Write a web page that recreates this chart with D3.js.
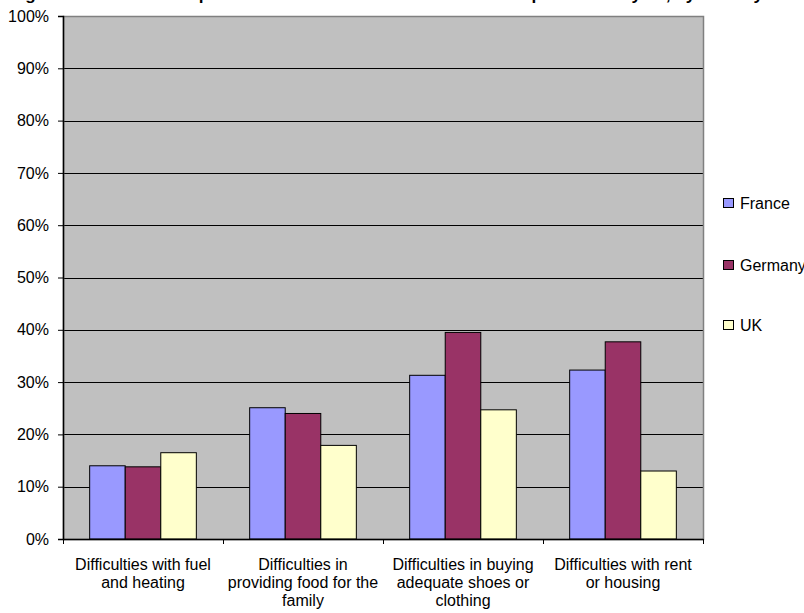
<!DOCTYPE html>
<html>
<head>
<meta charset="utf-8">
<script src="https://cdn.jsdelivr.net/npm/d3@7"></script>
<style>
  body { margin: 0; background: #fff; }
  svg { display: block; }
  text { font-family: "Liberation Sans", Arial, sans-serif; fill: #000; }
</style>
</head>
<body>
<div id="chart"></div>
<script>
const categories = [
  ["Difficulties with fuel", "and heating"],
  ["Difficulties in", "providing food for the", "family"],
  ["Difficulties in buying", "adequate shoes or", "clothing"],
  ["Difficulties with rent", "or housing"]
];
const seriesNames = ["France", "Germany", "UK"];
const france  = [0.140, 0.251, 0.313, 0.323];
const germany = [0.138, 0.240, 0.395, 0.377];
const uk      = [0.165, 0.179, 0.247, 0.130];
const seriesValues = [france, germany, uk];
const colors = ["#9999FF", "#993366", "#FFFFCC"];
const yTicks = [0, 0.1, 0.2, 0.3, 0.4, 0.5, 0.6, 0.7, 0.8, 0.9, 1.0];
const title = "Figure 5: Difficulties experienced as a result of financial hardship in the last year, by country";

const W = 804, H = 613;
const plot = { left: 63, right: 703, top: 16, bottom: 539 };

const svg = d3.select("#chart").append("svg").attr("width", W).attr("height", H);

// title (mostly cut off at the top edge, as in the reference)
svg.append("text")
  .attr("x", 10).attr("y", -0.5)
  .attr("textLength", 753).attr("lengthAdjust", "spacingAndGlyphs")
  .style("font-size", "16px").style("font-weight", "bold")
  .text(title);

const x0 = d3.scaleBand().domain(d3.range(categories.length))
  .range([plot.left, plot.right]).paddingInner(0).paddingOuter(0);
const bw = x0.bandwidth() / 4.5;
const y = d3.scaleLinear().domain([0, 1]).range([plot.bottom, plot.top]);

// plot background
svg.append("rect")
  .attr("x", plot.left).attr("y", plot.top)
  .attr("width", plot.right - plot.left).attr("height", plot.bottom - plot.top)
  .attr("fill", "#C0C0C0");

// gridlines
svg.append("g").selectAll("line").data(yTicks.slice(1, -1)).join("line")
  .attr("x1", plot.left).attr("x2", plot.right)
  .attr("y1", d => Math.round(y(d)) + 0.5).attr("y2", d => Math.round(y(d)) + 0.5)
  .attr("stroke", "#000").attr("stroke-width", 1);

// plot border
svg.append("rect")
  .attr("x", plot.left + 0.5).attr("y", plot.top + 0.5)
  .attr("width", plot.right - plot.left).attr("height", plot.bottom - plot.top)
  .attr("fill", "none").attr("stroke", "#808080").attr("stroke-width", 1.5);

// bars
seriesValues.forEach((vals, si) => {
  svg.append("g").selectAll("rect").data(vals).join("rect")
    .attr("x", (d, i) => x0(i) + bw * 0.75 + si * bw)
    .attr("y", d => y(d))
    .attr("width", bw)
    .attr("height", d => y(0) - y(d))
    .attr("fill", colors[si])
    .attr("stroke", "#000").attr("stroke-width", 1);
});

// y axis
const yAxis = d3.axisLeft(y).tickValues(yTicks).tickFormat(d3.format(".0%"))
  .tickSize(5).tickPadding(9);
const gy = svg.append("g").attr("transform", `translate(${plot.left},0)`).call(yAxis);
gy.select(".domain").attr("stroke", "#000").attr("stroke-width", 1.5);
gy.selectAll(".tick line").attr("stroke", "#000");
gy.selectAll(".tick text").style("font-size", "16px").style("font-family", "Liberation Sans, Arial, sans-serif");

// x axis with ticks at category boundaries
const xb = d3.scaleLinear().domain([0, categories.length]).range([plot.left, plot.right]);
const gx = svg.append("g").attr("transform", `translate(0,${plot.bottom})`)
  .call(d3.axisBottom(xb).tickValues(d3.range(categories.length + 1)).tickFormat("").tickSize(5).tickSizeOuter(0));
gx.select(".domain").attr("stroke", "#000").attr("stroke-width", 1.5);
gx.selectAll(".tick line").attr("stroke", "#000");

// category labels
categories.forEach((lines, i) => {
  const cx = x0(i) + x0.bandwidth() / 2;
  const t = svg.append("text")
    .attr("x", cx)
    .attr("y", 570)
    .attr("text-anchor", "middle")
    .style("font-size", "16px");
  lines.forEach((ln, li) => {
    t.append("tspan").attr("x", cx)
      .attr("dy", li === 0 ? 0 : 18).text(ln);
  });
});

// legend
const legendBase = [209, 271, 331];
seriesNames.forEach((name, si) => {
  svg.append("rect")
    .attr("x", 723.5).attr("y", legendBase[si] - 10.5)
    .attr("width", 10).attr("height", 9)
    .attr("fill", colors[si]).attr("stroke", "#000").attr("stroke-width", 1);
  svg.append("text")
    .attr("x", 740).attr("y", legendBase[si])
    .style("font-size", "16px")
    .text(name);
});
</script>
</body>
</html>
